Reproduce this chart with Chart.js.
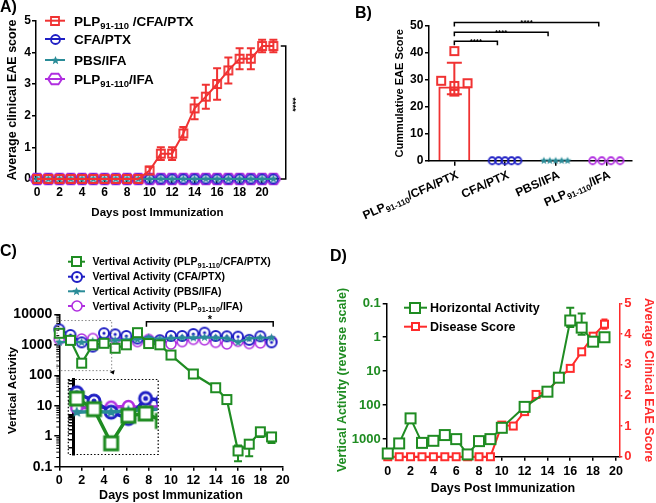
<!DOCTYPE html>
<html><head><meta charset="utf-8"><title>EAE figure</title>
<script src="https://cdn.jsdelivr.net/npm/chart.js@4.4.1/dist/chart.umd.min.js"></script>
<style>
html,body{margin:0;padding:0;background:#fff;}
#fig{position:relative;width:656px;height:503px;overflow:hidden;background:#fff;}
#fig canvas{position:absolute;}
.pl{position:absolute;font-family:"Liberation Sans",Arial,sans-serif;font-weight:bold;font-size:16px;line-height:16px;color:#000;}
</style></head><body>
<div id="fig">
<canvas id="cA" width="330" height="250" style="left:0px;top:0px"></canvas>
<canvas id="cB" width="326" height="250" style="left:330px;top:0px"></canvas>
<canvas id="cC" width="330" height="253" style="left:0px;top:250px"></canvas>
<canvas id="cD" width="326" height="253" style="left:330px;top:250px"></canvas>
<canvas id="cI" width="102" height="92" style="left:64px;top:371px"></canvas>
<div class="pl" style="left:0px;top:-1px">A)</div>
<div class="pl" style="left:355px;top:5px">B)</div>
<div class="pl" style="left:0px;top:243px">C)</div>
<div class="pl" style="left:330px;top:248px">D)</div>
</div>
<script>
// ---------------- DATA ----------------
// Panel A
const daysA = [0,1,2,3,4,5,6,7,8,9,10,11,12,13,14,15,16,17,18,19,20,21];
const dayTicksA = [0,2,4,6,8,10,12,14,16,18,20];
const scoreTicksA = [0,1,2,3,4,5];
const eaePLP_CFA     = [0,0,0,0,0,0,0,0,0,0,0.27,0.8,0.8,1.44,2.23,2.6,3.0,3.43,3.8,3.8,4.2,4.2];
const eaePLP_CFA_err = [0,0,0,0,0,0,0,0,0,0,0.12,0.2,0.2,0.2,0.34,0.38,0.5,0.41,0.33,0.33,0.2,0.2];
const eaeCFA     = [0,0,0,0,0,0,0,0,0,0,0,0,0,0,0,0,0,0,0,0,0,0];
const eaePBS     = [0,0,0,0,0,0,0,0,0,0,0,0,0,0,0,0,0,0,0,0,0,0];
const eaePLP_IFA = [0,0,0,0,0,0,0,0,0,0,0,0,0,0,0,0,0,0,0,0,0,0];
const legendA = ['PLP91-110 /CFA/PTX','CFA/PTX','PBS/IFA','PLP91-110/IFA'];

// Panel B
const groupsB = ['PLP91-110/CFA/PTX','CFA/PTX','PBS/IFA','PLP91-110/IFA'];
const cumPLP_CFA = [40.6, 27.7, 25.6, 29.6, 28.7];
const cumCFA     = [0, 0, 0, 0, 0];
const cumPBS     = [0, 0, 0, 0, 0];
const cumPLP_IFA = [0, 0, 0, 0];
const barB    = [27.5, null, null, null];
const barLoB  = [24.6, null, null, null];
const barHiB  = [36.3, null, null, null];
const ticksB  = [0,10,20,30,40,50];
const sigB    = ['****','****','****'];

// Panel C
const daysC = [0,1,2,3,4,5,6,7,8,9,10,11,12,13,14,15,16,17,18,19];
const dayTicksC = [0,2,4,6,8,10,12,14,16,18,20];
const actTicksC = [0.1,1,10,100,1000,10000];
const vaPLP_CFA   = [2380,1400,250,1000,1120,770,1000,2500,1100,1000,460,null,110,null,39,16,0.33,0.55,1.4,0.95];
const vaPLP_CFAlo = [null,null,null,null,null,null,null,null,null,null,null,null,null,null,null,null,0.15,0.22,0.95,0.6];
const vaPLP_CFAhi = [null,null,null,null,null,null,null,null,null,null,null,null,null,null,null,null,0.5,0.75,1.8,1.2];
const vaCFA     = [3200,2100,1200,870,2400,2200,1950,1600,1300,1400,1950,1950,2250,2500,1950,1900,1850,1450,1900,1200];
const vaPBS     = [1200,1250,1200,1300,1350,1400,1450,1500,1700,1550,1650,1700,1700,1750,1700,1650,1200,1600,1700,1700];
const vaPLP_IFA = [1500,1500,1550,1600,1500,1600,1500,1270,1500,1400,1060,1270,1510,1450,1200,1070,1300,1100,1150,1300];
const legendC = ['Vertival Activity (PLP91-110/CFA/PTX)','Vertival Activity (CFA/PTX)','Vertical Activity (PBS/IFA)','Vertival Activity (PLP91-110/IFA)'];
const sigC = '*';

// Panel D
const daysD = [0,1,2,3,4,5,6,7,8,9,10,11,12,13,14,15,16,17,18,19];
const dayTicksD = [0,2,4,6,8,10,12,14,16,18,20];
const actTicksD = [0.1,1,10,100,1000];
const scoreTicksD = [0,1,2,3,4,5];
const haD   = [2650,1340,245,1290,1120,760,1000,2830,1145,1000,465,null,112,null,40,15.5,0.32,0.52,1.35,1.0];
const haDlo = [null,null,null,null,null,null,null,null,null,null,null,null,null,null,null,null,0.135,0.2,1.0,0.8];
const haDhi = [null,null,null,null,null,null,null,null,null,null,null,null,null,null,null,null,0.5,0.85,1.7,1.25];
const scoreD    = [0,0,0,0,0,0,0,0,0,0,1.03,1.0,1.47,2.03,2.12,2.55,2.88,3.42,3.93,4.32];
const scoreDerr = [0,0,0,0,0,0,0,0,0,0,0.1,0.05,0.1,0.1,0.05,0.08,0.08,0.08,0.08,0.15];
const legendD = ['Horizontal Activity','Disease Score'];

// ---------------- STYLE / HELPERS ----------------
const FONT = '"Liberation Sans", Arial, Helvetica, sans-serif';
const BF = s => ({family: FONT, size: s, weight: 'bold'});
const RED = '#f03232', BLUE = '#1f1fc4', TEAL = '#2a8c98', PURPLE = '#b02ee0', GREEN = '#1f8c22', DRED = '#ff2b2b';
const xy = (xs, ys) => xs.map((x, i) => ({x: x, y: ys[i]}));

function mk(shape, size, color, lw, fill, dot) {
  const pad = Math.ceil(lw) + 2;
  const W = Math.ceil(size + 2 * pad);
  const c = document.createElement('canvas'); c.width = W; c.height = W;
  const g = c.getContext('2d'); const m = W / 2, r = size / 2;
  g.strokeStyle = color; g.lineWidth = lw; g.lineJoin = 'miter';
  g.beginPath();
  if (shape === 'square') g.rect(m - r, m - r, size, size);
  else if (shape === 'circle') g.arc(m, m, r, 0, Math.PI * 2);
  else if (shape === 'hex') {
    for (let k = 0; k < 6; k++) { const a = k * Math.PI / 3; const px = m + r * Math.cos(a), py = m + r * 0.87 * Math.sin(a); if (k) g.lineTo(px, py); else g.moveTo(px, py); }
    g.closePath();
  } else if (shape === 'star') {
    for (let k = 0; k < 10; k++) { const a = -Math.PI / 2 + k * Math.PI / 5; const rr = (k % 2) ? r * 0.45 : r; const px = m + rr * Math.cos(a), py = m + rr * Math.sin(a); if (k) g.lineTo(px, py); else g.moveTo(px, py); }
    g.closePath(); g.fillStyle = color; g.fill(); return c;
  }
  if (fill) { g.fillStyle = fill; g.fill(); }
  g.stroke();
  if (dot) { g.beginPath(); g.arc(m, m, dot, 0, Math.PI * 2); g.fillStyle = color; g.fill(); }
  return c;
}

function drawRich(ctx, s, x, y, size, color, align) {
  const parts = s.split(/(91-110)/).filter(Boolean).map(t => ({t: t, sub: t === '91-110'}));
  const fn = sz => 'bold ' + sz + 'px ' + FONT;
  const subSize = size * 0.7;
  let w = 0;
  parts.forEach(p => { ctx.font = fn(p.sub ? subSize : size); p.w = ctx.measureText(p.t).width; w += p.w; });
  let cx = align === 'right' ? x - w : (align === 'center' ? x - w / 2 : x);
  const base = y + size * 0.36;
  ctx.fillStyle = color; ctx.textBaseline = 'alphabetic'; ctx.textAlign = 'left';
  parts.forEach(p => { ctx.font = fn(p.sub ? subSize : size); ctx.fillText(p.t, cx, p.sub ? base + size * 0.22 : base); cx += p.w; });
}

function legendRow(ctx, x0, x1, xm, y, color, lw, img, text, size, tx) {
  ctx.save(); ctx.strokeStyle = color; ctx.lineWidth = lw;
  ctx.beginPath(); ctx.moveTo(x0, y); ctx.lineTo(x1, y); ctx.stroke();
  ctx.drawImage(img, Math.round(xm - img.width / 2), Math.round(y - img.height / 2));
  drawRich(ctx, text, tx, y, size, '#000', 'left');
  ctx.restore();
}

function errBars(chart, di, lo, hi, color, cap, lw) {
  const meta = chart.getDatasetMeta(di);
  const ys = chart.scales[meta.yAxisID];
  const ctx = chart.ctx;
  ctx.save(); ctx.strokeStyle = color; ctx.lineWidth = lw;
  meta.data.forEach((pt, i) => {
    if (lo[i] == null || hi[i] == null || lo[i] === hi[i]) return;
    const x = pt.x, y1 = ys.getPixelForValue(lo[i]), y2 = ys.getPixelForValue(hi[i]);
    ctx.beginPath(); ctx.moveTo(x, y1); ctx.lineTo(x, y2);
    ctx.moveTo(x - cap, y1); ctx.lineTo(x + cap, y1);
    ctx.moveTo(x - cap, y2); ctx.lineTo(x + cap, y2); ctx.stroke();
  });
  ctx.restore();
}

function minorTicks(chart, id, decades, len, lw) {
  const s = chart.scales[id], ctx = chart.ctx, x0 = s.right;
  ctx.save(); ctx.strokeStyle = '#000'; ctx.lineWidth = lw; ctx.beginPath();
  decades.forEach(d => { for (let k = 2; k <= 9; k++) { const v = k * d; if (v < s.min || v > s.max) continue; const y = s.getPixelForValue(v); ctx.moveTo(x0 - len, y); ctx.lineTo(x0, y); } });
  ctx.stroke(); ctx.restore();
}

function swarm(vals, center, step, th) {
  const placed = [];
  vals.forEach(v => {
    for (let k = 0; k < 50; k++) {
      const off = k === 0 ? 0 : ((k % 2) ? -1 : 1) * Math.ceil(k / 2) * step;
      if (!placed.some(p => Math.abs(p.o - off) < step / 2 && Math.abs(p.v - v) < th)) { placed.push({o: off, v: v}); break; }
    }
  });
  const mean = placed.reduce((a, p) => a + p.o, 0) / placed.length;
  return placed.map(p => ({x: center + p.o - mean, y: p.v}));
}

const setTicks = arr => s => { s.ticks = arr.map(v => ({value: v})); };
const gridOpt = (len, col) => ({drawOnChartArea: false, drawTicks: true, tickLength: len, color: col || '#000', lineWidth: 1.5});
const borderOpt = col => ({display: true, color: col || '#000', width: 1.5});
const base = {responsive: false, animation: false, devicePixelRatio: 1, events: [], plugins: {legend: {display: false}, tooltip: {enabled: false}}};

// ---------------- PANEL A ----------------
const mA = {
  red: mk('square', 8, RED, 1.8, null),
  blue: mk('circle', 9, BLUE, 1.8, null),
  teal: mk('star', 9, TEAL, 1, null),
  purple: mk('hex', 14, PURPLE, 1.8, null)
};
function ds(label, data, color, img, lw, order) {
  return {label: label, data: data, borderColor: color, backgroundColor: color, borderWidth: lw, pointStyle: img, pointRadius: 5, pointHoverRadius: 5, clip: false, spanGaps: true, tension: 0, order: order};
}
new Chart(document.getElementById('cA'), {
  type: 'line',
  data: {datasets: [
    ds(legendA[0], xy(daysA, eaePLP_CFA), RED, mA.red, 2, 0),
    ds(legendA[1], xy(daysA, eaeCFA), BLUE, mA.blue, 2, 2),
    ds(legendA[2], xy(daysA, eaePBS), TEAL, mA.teal, 2, 1),
    ds(legendA[3], xy(daysA, eaePLP_IFA), PURPLE, mA.purple, 2, 3)
  ]},
  options: Object.assign({}, base, {
    layout: {padding: {top: 20.7, right: 51, bottom: 0, left: 0}},
    scales: {
      x: {type: 'linear', min: -0.09, max: 21.5, afterBuildTicks: setTicks(dayTicksA), afterFit: s => { s.height = 71; },
          grid: gridOpt(4), border: borderOpt(), ticks: {color: '#000', font: BF(12), padding: 2, maxRotation: 0, autoSkip: false},
          title: {display: true, text: 'Days post Immunization', color: '#000', font: BF(11.5), padding: {top: 0, bottom: 30}}},
      y: {type: 'linear', min: 0, max: 5, afterBuildTicks: setTicks(scoreTicksA), afterFit: s => { s.width = 36; },
          grid: gridOpt(4), border: borderOpt(), ticks: {color: '#000', font: BF(12), padding: 1},
          title: {display: true, text: 'Average clinical EAE score', color: '#000', font: BF(12.5), padding: {top: 5.5, bottom: 0}}}
    }
  }),
  plugins: [{
    id: 'extraA',
    beforeDatasetsDraw(chart) {
      errBars(chart, 0, eaePLP_CFA.map((v, i) => v - eaePLP_CFA_err[i]), eaePLP_CFA.map((v, i) => v + eaePLP_CFA_err[i]), RED, 4, 2);
    },
    afterDraw(chart) {
      const ctx = chart.ctx, xs = chart.scales.x, ys = chart.scales.y;
      const imgs = [mA.red, mA.blue, mA.teal, mA.purple], cols = [RED, BLUE, TEAL, PURPLE], rows = [20.7, 39, 60, 79];
      legendA.forEach((t, i) => legendRow(ctx, 45, 65, 55, rows[i], cols[i], 2, imgs[i], t, 13.5, 74));
      const bx = xs.getPixelForValue(22.1), yT = ys.getPixelForValue(4.2), yB = ys.getPixelForValue(0);
      ctx.save(); ctx.strokeStyle = '#000'; ctx.lineWidth = 1.5;
      ctx.beginPath(); ctx.moveTo(bx - 5, yT); ctx.lineTo(bx, yT); ctx.lineTo(bx, yB); ctx.lineTo(bx - 5, yB); ctx.stroke();
      ctx.translate(bx + 7, (yT + yB) / 2 - 8); ctx.rotate(Math.PI / 2);
      ctx.font = 'bold 9px ' + FONT; ctx.fillStyle = '#000'; ctx.textAlign = 'center'; ctx.textBaseline = 'middle';
      ctx.fillText('****', 0, 0);
      ctx.restore();
    }
  }]
});

// ---------------- PANEL B ----------------
const mB = {
  red: mk('square', 8, RED, 2, null),
  blue: mk('circle', 7, BLUE, 1.8, null),
  teal: mk('star', 8, TEAL, 1, null),
  purple: mk('circle', 7, PURPLE, 1.8, null)
};
function sc(label, data, img, color) {
  return {type: 'scatter', label: label, data: data, xAxisID: 'xs', yAxisID: 'y', pointStyle: img, pointRadius: 4, borderColor: color, backgroundColor: color, showLine: false, clip: false};
}
new Chart(document.getElementById('cB'), {
  type: 'bar',
  data: {labels: groupsB, datasets: [
    {type: 'bar', label: 'mean', data: barB, xAxisID: 'x', yAxisID: 'y', borderColor: RED, backgroundColor: 'rgba(255,255,255,0)', borderWidth: 2, borderSkipped: 'start', barPercentage: 0.63, categoryPercentage: 1, grouped: false},
    sc(groupsB[0], swarm(cumPLP_CFA, 0, 0.26, 2.0), mB.red, RED),
    sc(groupsB[1], swarm(cumCFA, 1, 0.127, 2.0), mB.blue, BLUE),
    sc(groupsB[2], swarm(cumPBS, 2, 0.117, 2.0), mB.teal, TEAL),
    sc(groupsB[3], swarm(cumPLP_IFA, 3, 0.18, 2.0), mB.purple, PURPLE)
  ]},
  options: Object.assign({}, base, {
    layout: {padding: {top: 25.7, right: 24.3, bottom: 0, left: 0}},
    scales: {
      x: {type: 'category', offset: true, afterFit: s => { s.height = 89.3; },
          grid: Object.assign(gridOpt(5), {offset: false}), border: borderOpt(), ticks: {display: false}},
      xs: {type: 'linear', axis: 'x', position: 'bottom', min: -0.5, max: 3.5, offset: false, display: false, grid: {offset: false}},
      y: {type: 'linear', min: 0, max: 50, afterBuildTicks: setTicks(ticksB), afterFit: s => { s.width = 99; },
          grid: gridOpt(4), border: borderOpt(), ticks: {color: '#000', font: BF(12), padding: 1.7},
          title: {display: true, text: 'Cummulative EAE Score', color: '#000', font: BF(11), padding: {top: 63.4, bottom: 0}}}
    }
  }),
  plugins: [{
    id: 'extraB',
    afterDatasetsDraw(chart) {
      errBars(chart, 0, barLoB, barHiB, RED, 7.5, 2);
    },
    afterDraw(chart) {
      const ctx = chart.ctx, xc = chart.scales.x, ys = chart.scales.y;
      const ay = ys.getPixelForValue(0);
      const cw = (xc.right - xc.left) / groupsB.length;
      groupsB.forEach((g, i) => {
        const x = xc.getPixelForValue(i);
        ctx.save(); ctx.translate(x + 3, ay + 13); ctx.rotate(-24 * Math.PI / 180);
        drawRich(ctx, g, 0, 0, 12, '#000', 'right'); ctx.restore();
      });
      const levels = [44.2, 47.6, 51.2];
      ctx.save(); ctx.strokeStyle = '#000'; ctx.lineWidth = 1.5;
      sigB.forEach((s, k) => {
        const x0 = xc.getPixelForValue(0), x1 = xc.getPixelForValue(k + 1) - 0.15 * cw, y = ys.getPixelForValue(levels[k]);
        ctx.beginPath(); ctx.moveTo(x0, y + 4); ctx.lineTo(x0, y); ctx.lineTo(x1, y); ctx.lineTo(x1, y + 4); ctx.stroke();
        ctx.font = 'bold 8px ' + FONT; ctx.fillStyle = '#000'; ctx.textAlign = 'center'; ctx.textBaseline = 'alphabetic';
        ctx.fillText(s, (x0 + x1) / 2, y + 3);
      });
      ctx.restore();
    }
  }]
});

// ---------------- PANEL C ----------------
const mC = {
  green: mk('square', 9, GREEN, 2, '#fff'),
  blue: mk('circle', 10, BLUE, 2, '#fff', 1.6),
  teal: mk('star', 9, TEAL, 1, null),
  purple: mk('circle', 10, PURPLE, 1.6, '#fff')
};
const insetX = [-0.2, 4.69], insetY = [142, 6240];
new Chart(document.getElementById('cC'), {
  type: 'line',
  data: {datasets: [
    ds(legendC[0], xy(daysC, vaPLP_CFA), GREEN, mC.green, 2.2, 0),
    ds(legendC[1], xy(daysC, vaCFA), BLUE, mC.blue, 2, 2),
    ds(legendC[2], xy(daysC, vaPBS), TEAL, mC.teal, 2.2, 1),
    ds(legendC[3], xy(daysC, vaPLP_IFA), PURPLE, mC.purple, 2, 3)
  ]},
  options: Object.assign({}, base, {
    layout: {padding: {top: 64.3, right: 47.3, bottom: 0, left: 0}},
    scales: {
      x: {type: 'linear', min: 0, max: 20, afterBuildTicks: setTicks(dayTicksC), afterFit: s => { s.height = 36.3; },
          grid: gridOpt(4), border: borderOpt(), ticks: {color: '#000', font: BF(12.5), padding: 2, maxRotation: 0, autoSkip: false},
          title: {display: true, text: 'Days post Immunization', color: '#000', font: BF(12.5), padding: {top: 0, bottom: 0}}},
      y: {type: 'logarithmic', min: 0.1, max: 10000, afterBuildTicks: setTicks(actTicksC), afterFit: s => { s.width = 59.3; },
          grid: gridOpt(5), border: borderOpt(), ticks: {color: '#000', font: BF(14), padding: 2, callback: v => String(v)},
          title: {display: true, text: 'Vertical Activity', color: '#000', font: BF(11.7), padding: {top: 5.5, bottom: 0}}}
    }
  }),
  plugins: [{
    id: 'extraC',
    beforeDatasetsDraw(chart) { errBars(chart, 0, vaPLP_CFAlo, vaPLP_CFAhi, GREEN, 4, 2); },
    afterDraw(chart) {
      const ctx = chart.ctx, xs = chart.scales.x, ys = chart.scales.y;
      minorTicks(chart, 'y', [0.1, 1, 10, 100, 1000], 3, 1);
      const imgs = [mC.green, mC.blue, mC.teal, mC.purple], cols = [GREEN, BLUE, TEAL, PURPLE], rows = [11.7, 26.7, 41.3, 56];
      legendC.forEach((t, i) => legendRow(ctx, 68, 85, 76.5, rows[i], cols[i], 2, imgs[i], t, 10.5, 92.5));
      const rx0 = xs.getPixelForValue(insetX[0]), rx1 = xs.getPixelForValue(insetX[1]);
      const ry0 = ys.getPixelForValue(insetY[1]), ry1 = ys.getPixelForValue(insetY[0]);
      ctx.save(); ctx.strokeStyle = '#888'; ctx.lineWidth = 1; ctx.setLineDash([1.5, 2]);
      ctx.strokeRect(rx0, ry0, rx1 - rx0, ry1 - ry0); ctx.setLineDash([]);
      ctx.fillStyle = '#000'; ctx.beginPath(); ctx.moveTo(rx1 - 2, ry1 + 1.5); ctx.lineTo(rx1 + 3, ry1 - 0.5); ctx.lineTo(rx1 + 2, ry1 + 4); ctx.closePath(); ctx.fill();
      const bx0 = xs.getPixelForValue(7.8), bx1 = xs.getPixelForValue(19.15), by = ys.getPixelForValue(5700);
      ctx.strokeStyle = '#000'; ctx.lineWidth = 1.5;
      ctx.beginPath(); ctx.moveTo(bx0, by + 5); ctx.lineTo(bx0, by); ctx.lineTo(bx1, by); ctx.lineTo(bx1, by + 5); ctx.stroke();
      ctx.font = 'bold 11px ' + FONT; ctx.textAlign = 'center'; ctx.textBaseline = 'alphabetic';
      ctx.fillText(sigC, (bx0 + bx1) / 2, by + 1);
      ctx.restore();
    }
  }]
});

// ---------------- INSET (zoom of panel C) ----------------
const mI = {
  green: mk('square', 13, GREEN, 3, '#fff'),
  blue: mk('circle', 12, BLUE, 3, '#fff', 2.5),
  teal: mk('star', 12, TEAL, 1, null),
  purple: mk('circle', 11, PURPLE, 2.5, '#fff')
};
const insetTicks = [];
[100, 1000].forEach(d => { for (let k = 1; k <= 9; k++) { const v = k * d; if (v >= insetY[0] && v <= insetY[1]) insetTicks.push(v); } });
function dsI(label, data, color, img, lw, order) {
  const d = ds(label, data, color, img, lw, order); d.clip = {left: 5, top: 3, right: 0, bottom: 3}; return d;
}
new Chart(document.getElementById('cI'), {
  type: 'line',
  data: {datasets: [
    dsI(legendC[0], xy(daysC, vaPLP_CFA), GREEN, mI.green, 3.5, 0),
    dsI(legendC[1], xy(daysC, vaCFA), BLUE, mI.blue, 3.5, 2),
    dsI(legendC[2], xy(daysC, vaPBS), TEAL, mI.teal, 3.5, 1),
    dsI(legendC[3], xy(daysC, vaPLP_IFA), PURPLE, mI.purple, 3.5, 3)
  ]},
  options: Object.assign({}, base, {
    layout: {padding: {top: 4, right: 4, bottom: 4.5, left: 0}},
    scales: {
      x: {type: 'linear', min: insetX[0], max: insetX[1], display: false},
      y: {type: 'logarithmic', min: insetY[0], max: insetY[1], afterBuildTicks: setTicks(insetTicks), afterFit: s => { s.width = 9.3; },
          grid: {drawOnChartArea: false, drawTicks: true, tickLength: 5, color: '#000', lineWidth: c => (c.tick && c.tick.value === 1000) ? 3 : 1.5},
          border: {display: true, color: '#000', width: 3}, ticks: {display: false}}
    }
  }),
  plugins: [{
    id: 'frameI',
    afterDraw(chart) {
      const a = chart.chartArea, ctx = chart.ctx;
      ctx.save(); ctx.strokeStyle = '#000'; ctx.lineWidth = 1.2; ctx.setLineDash([1.5, 2]);
      ctx.strokeRect(a.left - 5, a.top, a.right - a.left + 5.7, a.bottom - a.top); ctx.restore();
    }
  }]
});

// ---------------- PANEL D ----------------
const mD = {
  green: mk('square', 10, GREEN, 2, '#fff'),
  red: mk('square', 7, DRED, 2, '#fff')
};
const dsG = ds(legendD[0], xy(daysD, haD), GREEN, mD.green, 2, 0); dsG.yAxisID = 'y';
const dsR = ds(legendD[1], xy(daysD, scoreD), DRED, mD.red, 2, 1); dsR.yAxisID = 'y2';
new Chart(document.getElementById('cD'), {
  type: 'line',
  data: {datasets: [dsG, dsR]},
  options: Object.assign({}, base, {
    layout: {padding: {top: 53.3, right: 0, bottom: 0, left: 0}},
    scales: {
      x: {type: 'linear', min: -0.09, max: 20.3, afterBuildTicks: setTicks(dayTicksD), afterFit: s => { s.height = 46.3; },
          grid: gridOpt(4), border: borderOpt(), ticks: {color: '#000', font: BF(12.5), padding: 3.5, maxRotation: 0, autoSkip: false},
          title: {display: true, text: 'Days Post Immunization', color: '#000', font: BF(12.5), padding: {top: 0, bottom: 6.5}}},
      y: {type: 'logarithmic', position: 'left', reverse: true, min: 0.1, max: 3300, afterBuildTicks: setTicks(actTicksD), afterFit: s => { s.width = 56.7; },
          grid: gridOpt(4), border: borderOpt(), ticks: {color: GREEN, font: BF(13), padding: 2, callback: v => String(v)},
          title: {display: true, text: 'Vertical Activity (reverse scale)', color: GREEN, font: BF(12.5), padding: {top: 5.5, bottom: 0}}},
      y2: {type: 'linear', position: 'right', min: 0, max: 5, afterBuildTicks: setTicks(scoreTicksD), afterFit: s => { s.width = 36.7; },
          grid: gridOpt(3, DRED), border: borderOpt(DRED), ticks: {color: DRED, font: BF(13), padding: 2},
          title: {display: true, text: 'Average Clinical EAE Score', color: DRED, font: BF(12.5), padding: {top: 0, bottom: 0}}}
    }
  }),
  plugins: [{
    id: 'extraD',
    beforeDatasetsDraw(chart) {
      errBars(chart, 0, haDlo, haDhi, GREEN, 4, 2);
      errBars(chart, 1, scoreD.map((v, i) => v - scoreDerr[i]), scoreD.map((v, i) => v + scoreDerr[i]), DRED, 3, 2);
    },
    afterDraw(chart) {
      const ctx = chart.ctx;
      legendRow(ctx, 74, 97, 85, 57.7, GREEN, 2, mD.green, legendD[0], 12.5, 100);
      legendRow(ctx, 74, 97, 85, 76.7, DRED, 2, mD.red, legendD[1], 12.5, 100);
    }
  }]
});
</script>
</body></html>
